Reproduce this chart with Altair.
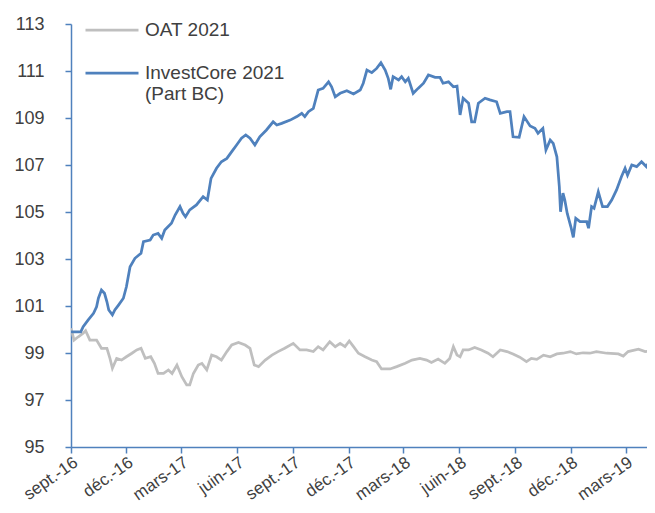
import altair as alt
import pandas as pd

START = "2016-09-01"

# days after 2016-09-01 and values
oat_days = [0, 5, 12, 20, 24, 31, 42, 50, 59, 64, 68, 75, 83, 91, 100, 108, 115, 122, 131, 137,
            143, 152, 160, 166, 174, 182, 190, 195, 201, 209, 215, 223, 231, 239, 247, 256, 264,
            275, 286, 294, 301, 308, 319, 330, 340, 351, 365, 376, 387, 398, 406, 414, 425, 434,
            442, 450, 457, 464, 472, 483, 494, 502, 510, 524, 535, 549, 560, 573, 584, 592, 603,
            614, 622, 628, 634, 639, 644, 653, 663, 674, 685, 693, 705, 716, 726, 737, 748, 756,
            765, 776, 787, 798, 808, 820, 830, 841, 852, 863, 880, 899, 907, 915, 932, 943, 959]
oat_vals = [100.05, 99.55, 99.69, 99.84, 99.95, 99.55, 99.55, 99.2, 99.2, 98.77, 98.35, 98.77,
            98.7, 98.84, 98.99, 99.13, 99.2, 98.77, 98.84, 98.56, 98.13, 98.13, 98.28, 98.13,
            98.49, 97.99, 97.64, 97.64, 98.13, 98.49, 98.56, 98.28, 98.91, 98.84, 98.7, 99.06,
            99.34, 99.45, 99.34, 99.2, 98.49, 98.42, 98.7, 98.91, 99.06, 99.2, 99.41, 99.13,
            99.13, 99.06, 99.27, 99.13, 99.48, 99.27, 99.41, 99.27, 99.51, 99.27, 98.99, 98.84,
            98.7, 98.63, 98.32, 98.32, 98.42, 98.56, 98.7, 98.77, 98.7, 98.6, 98.74, 98.56,
            98.77, 99.27, 98.91, 98.84, 99.13, 99.13, 99.24, 99.13, 98.99, 98.84, 99.13, 99.06,
            98.96, 98.82, 98.63, 98.77, 98.73, 98.91, 98.84, 98.96, 98.99, 99.06, 98.96, 99.01,
            98.99, 99.06, 98.99, 98.96, 98.87, 99.06, 99.16, 99.06, 99.1]

ic_days = [0, 16, 20, 28, 37, 42, 45, 50, 55, 59, 62, 68, 72, 78, 86, 91, 97, 105, 115, 119,
           130, 135, 143, 149, 154, 165, 171, 179, 184, 188, 195, 206, 217, 224, 230, 239, 247,
           256, 264, 272, 280, 287, 294, 302, 310, 321, 332, 338, 346, 360, 371, 379, 384, 390,
           398, 406, 414, 423, 428, 434, 442, 453, 464, 475, 480, 486, 494, 502, 509, 516, 521,
           525, 529, 538, 543, 549, 554, 562, 570, 579, 587, 598, 606, 611, 620, 628, 634, 639,
           644, 653, 658, 663, 669, 680, 688, 699, 705, 716, 721, 726, 736, 744, 754, 762, 767,
           775, 780, 787, 792, 798, 802, 804, 808, 811, 815, 821, 825, 829, 836, 847, 850, 855,
           859, 866, 873, 881, 888, 896, 904, 910, 914, 921, 929, 937, 945, 954, 959]
ic_vals = [99.9, 99.9, 100.12, 100.4, 100.69, 100.97, 101.33, 101.68, 101.54, 101.18, 100.83,
           100.62, 100.83, 101.04, 101.33, 101.82, 102.67, 103.03, 103.24, 103.74, 103.81,
           104.02, 104.09, 103.88, 104.23, 104.52, 104.87, 105.23, 104.94, 104.8, 105.09, 105.3,
           105.65, 105.51, 106.43, 106.86, 107.14, 107.28, 107.57, 107.85, 108.14, 108.28,
           108.14, 107.85, 108.2, 108.49, 108.84, 108.7, 108.77, 108.91, 109.06, 109.2, 109.06,
           109.27, 109.41, 110.19, 110.26, 110.54, 110.33, 109.9, 110.05, 110.16, 110.02, 110.19,
           110.48, 111.04, 110.93, 111.11, 111.35, 111.04, 110.69, 110.22, 110.76, 110.62,
           110.76, 110.54, 110.69, 110.05, 110.26, 110.48, 110.83, 110.73, 110.73, 110.48,
           110.54, 110.33, 110.36, 109.13, 109.84, 109.63, 108.84, 108.84, 109.63, 109.84,
           109.77, 109.69, 109.2, 109.27, 109.27, 108.2, 108.18, 109.06, 108.66, 108.56, 108.35,
           108.56, 107.64, 108.06, 107.92, 107.35, 106.08, 105.01, 105.8, 105.51, 104.94,
           104.37, 103.92, 104.73, 104.59, 104.59, 104.31, 105.23, 105.16, 105.86, 105.23,
           105.23, 105.51, 105.94, 106.5, 106.86, 106.57, 107.0, 106.93, 107.14, 106.93,
           107.35, 107.4]

series_names = ["OAT 2021", "InvestCore 2021|(Part BC)"]
series_colors = ["#bfbfbf", "#4f81bd"]
y_ticks = [95, 97, 99, 101, 103, 105, 107, 109, 111, 113]
x_tick_dates = ["2016-09-01", "2016-12-01", "2017-03-01", "2017-06-01", "2017-09-01",
                "2017-12-01", "2018-03-01", "2018-06-01", "2018-09-01", "2018-12-01",
                "2019-03-01"]
x_end = "2019-04-05"

df = pd.concat([
    pd.DataFrame({"day": oat_days, "value": oat_vals, "series": series_names[0], "ord": 0}),
    pd.DataFrame({"day": ic_days, "value": ic_vals, "series": series_names[1], "ord": 1}),
], ignore_index=True)
df["date"] = (pd.Timestamp(START) + pd.to_timedelta(df["day"], unit="D")).dt.strftime("%Y-%m-%dT00:00:00")


def dt(s):
    t = pd.Timestamp(s)
    return alt.DateTime(year=t.year, month=t.month, date=t.day)


FONT = "Liberation Sans"
TXT = "#404040"
AXC = "#4f81bd"

label_expr = ("(month(datum.value)==2 ? 'mars' : month(datum.value)==5 ? 'juin' : "
              "month(datum.value)==8 ? 'sept.' : 'déc.') + '-' + timeFormat(datum.value, '%y')")

chart = alt.Chart(df).mark_line(strokeWidth=2.75, clip=True).encode(
    x=alt.X("date:T",
            scale=alt.Scale(domain=[dt(START), dt(x_end)]),
            axis=alt.Axis(values=[dt(d) for d in x_tick_dates], labelExpr=label_expr,
                          labelAngle=-35, labelAlign="right", labelBaseline="top",
                          labelPadding=1, labelOverlap=False, labelFlush=False,
                          labelBound=False, grid=False, tickSize=6, title=None,
                          labelFont=FONT, labelFontSize=17, labelColor=TXT)),
    y=alt.Y("value:Q",
            scale=alt.Scale(domain=[95, 113], nice=False, zero=False),
            axis=alt.Axis(values=y_ticks, format="d", grid=False, tickSize=6,
                          labelPadding=21, title=None,
                          labelFont=FONT, labelFontSize=18, labelColor=TXT)),
    color=alt.Color("series:N",
                    scale=alt.Scale(domain=series_names, range=series_colors),
                    legend=alt.Legend(orient="none", legendX=13, legendY=-22, title=None,
                                      direction="vertical", symbolType="stroke",
                                      symbolSize=2809, symbolStrokeWidth=2.75,
                                      labelExpr="split(datum.label, '|')",
                                      labelFontSize=19, labelFont=FONT, labelColor=TXT,
                                      labelOffset=5, rowPadding=5, padding=0,
                                      labelBaseline="middle", labelLimit=400)),
    order=alt.Order("ord:Q"),
).properties(
    width=576, height=423,
    autosize=alt.AutoSizeParams(type="none"),
    padding={"left": 63, "top": 16, "right": 0, "bottom": 58},
    background="white",
).configure_axis(
    domainColor=AXC, tickColor=AXC, domainWidth=1.5, tickWidth=1.5,
).configure_view(stroke=None)

chart.save("out.html", embed_options={"renderer": "svg", "actions": False})
